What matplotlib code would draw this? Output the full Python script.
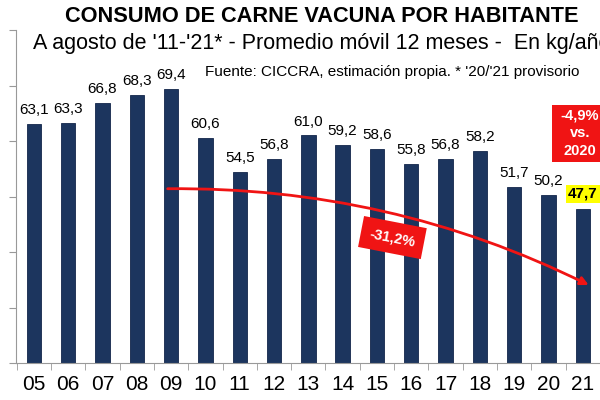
import numpy as np
import matplotlib.pyplot as plt
from matplotlib.patches import Rectangle

plt.rcParams['font.family'] = ['Liberation Sans', 'DejaVu Sans']

# datos
anios = ['05', '06', '07', '08', '09', '10', '11', '12', '13', '14', '15', '16', '17', '18', '19', '20', '21']
consumo = [63.1, 63.3, 66.8, 68.3, 69.4, 60.6, 54.5, 56.8, 61.0, 59.2, 58.6, 55.8, 56.8, 58.2, 51.7, 50.2, 47.7]
y_ticks = [20, 30, 40, 50, 60, 70, 80]

azul = '#1c355e'
rojo = '#f01414'

fig = plt.figure(figsize=(6, 4), dpi=100)
ax = fig.add_axes([16 / 600, 37 / 400, 584 / 600, 333 / 400])

x = np.arange(len(anios))
ax.bar(x, consumo, width=0.42, color=azul, edgecolor='#13264a', linewidth=0.6, zorder=2)

ax.set_xlim(-0.52, 16.32)
ax.set_ylim(20, 80)
ax.set_yticks(y_ticks)
ax.tick_params(axis='y', length=5, color='#999999', labelleft=False)
ax.set_xticks(x)
ax.set_xticklabels(anios, fontsize=15)
ax.set_xticks(np.arange(-0.5, len(anios), 1), minor=True)
ax.tick_params(axis='x', which='major', length=0, pad=9)
ax.tick_params(axis='x', which='minor', length=5, color='#999999')
for s in ['top', 'right']:
    ax.spines[s].set_visible(False)
for s in ['left', 'bottom']:
    ax.spines[s].set_color('#999999')

# etiquetas de valores
for i, v in enumerate(consumo):
    txt = f'{v:.1f}'.replace('.', ',')
    if i == len(consumo) - 1:
        ax.annotate(txt, (i, v), xytext=(0, 6), textcoords='offset points', ha='center', va='bottom',
                    fontsize=11, fontweight='bold',
                    bbox=dict(boxstyle='square,pad=0.15', fc='#ffff00', ec='none'))
    else:
        ax.annotate(txt, (i, v), xytext=(0, 5), textcoords='offset points', ha='center', va='bottom',
                    fontsize=11)

# flecha de tendencia
ax.annotate('', xy=(16.17, 34.05), xytext=(3.9, 51.4),
            arrowprops=dict(arrowstyle='-|>', color=rojo, lw=2, mutation_scale=12,
                            shrinkA=0, shrinkB=0,
                            connectionstyle='arc3,rad=-0.12'), zorder=4)
ax.text(10.45, 42.6, '-31,2%', rotation=-11, ha='center', va='center', color='white',
        fontsize=10.5, fontweight='bold', zorder=5,
        bbox=dict(boxstyle='square,pad=0.6', fc=rojo, ec='none'))

# recuadro variación interanual
ax.add_patch(Rectangle((15.105, 56.2), 1.5, 10.3, fc=rojo, ec='none', zorder=5, clip_on=False))
ax.text(15.91, 61.4, '-4,9%\nvs.\n2020', ha='center', va='center', color='white',
        fontsize=10.5, fontweight='bold', linespacing=1.3, zorder=6)

# textos
fig.text(322 / 600, 1 - 16 / 400, 'CONSUMO DE CARNE VACUNA POR HABITANTE', ha='center', va='center',
         fontsize=15.7, fontweight='bold')
fig.text(33 / 600, 1 - 44 / 400, "A agosto de '11-'21* - Promedio móvil 12 meses -  En kg/año",
         ha='left', va='center', fontsize=15.5)
fig.text(205 / 600, 1 - 72 / 400, "Fuente: CICCRA, estimación propia. * '20/'21 provisorio",
         ha='left', va='center', fontsize=11)

fig.savefig('out.png', dpi=100)
